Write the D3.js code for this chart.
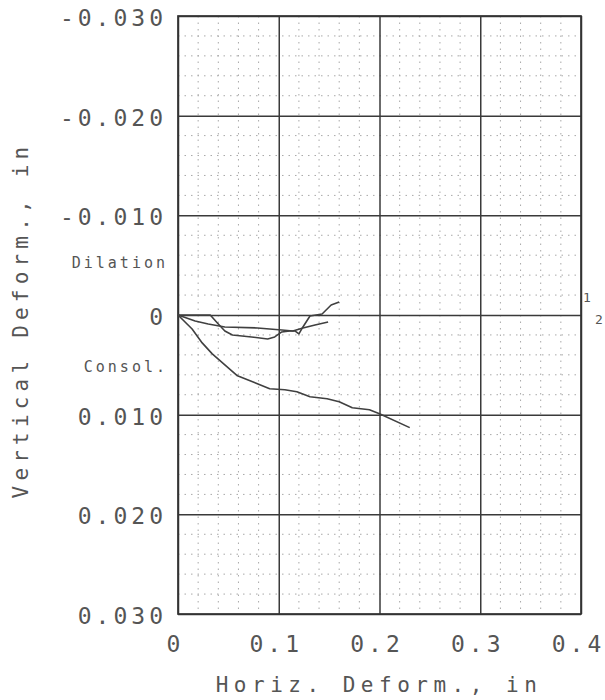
<!DOCTYPE html>
<html>
<head>
<meta charset="utf-8">
<script src="https://cdn.jsdelivr.net/npm/d3@7/dist/d3.min.js"></script>
<style>
  html, body { margin: 0; padding: 0; background: #fff; }
  svg { display: block; }
  text { font-family: "DejaVu Sans Mono", monospace; fill: #555; }
</style>
</head>
<body>
<svg id="chart" width="605" height="700"></svg>
<script>
// ---- data (horizontal deformation in, vertical deformation in; positive = consolidation)
const seriesA = [ // long consolidation curve
  [0, 0], [0.014, 0.0014], [0.024, 0.0028], [0.034, 0.0039],
  [0.059, 0.0061], [0.074, 0.0067], [0.091, 0.0074], [0.106, 0.0075],
  [0.118, 0.0077], [0.131, 0.0082], [0.148, 0.0084], [0.160, 0.0087],
  [0.173, 0.0093], [0.190, 0.0095], [0.200, 0.0099], [0.230, 0.0113]
];
const seriesB = [ // curve turning to dilation
  [0, 0], [0.032, 0.0000], [0.040, 0.0009], [0.0465, 0.0016], [0.054, 0.0020],
  [0.073, 0.0022], [0.089, 0.0024], [0.096, 0.0022], [0.103, 0.0017],
  [0.111, 0.0016], [0.116, 0.0016], [0.120, 0.0019], [0.124, 0.0012],
  [0.131, 0.0001], [0.143, -0.0001], [0.152, -0.0010], [0.160, -0.0013]
];
const seriesC = [ // shallow curve
  [0, 0], [0.017, 0.0006], [0.030, 0.0009], [0.0465, 0.0012], [0.079, 0.0013],
  [0.103, 0.0015], [0.114, 0.0016], [0.124, 0.0013], [0.136, 0.0010], [0.149, 0.0007]
];
const xTicks = [0, 0.1, 0.2, 0.3, 0.4];
const xTickLabels = ["0", "0.1", "0.2", "0.3", "0.4"];
const yTicks = [-0.03, -0.02, -0.01, 0, 0.01, 0.02, 0.03];
const yTickLabels = ["-0.030", "-0.020", "-0.010", "0", "0.010", "0.020", "0.030"];
const xMinorStep = 0.02;
const yMinorStep = 0.002;
const xTitle = "Horiz. Deform., in";
const yTitle = "Vertical Deform., in";
const zoneLabels = [{ text: "Dilation", v: -0.0047 }, { text: "Consol.", v: 0.0057 }];
const curveLabels = ["1", "2"];

// ---- layout
const svg = d3.select("#chart");
const L = 178, R = 581, T = 16, B = 614;
const x = d3.scaleLinear().domain([0, 0.4]).range([L, R]);
const y = d3.scaleLinear().domain([-0.03, 0.03]).range([T, B]);

// minor dotted grid
const xMinor = d3.range(0, 0.4 + 1e-9, xMinorStep).filter(v => Math.abs(v / 0.1 - Math.round(v / 0.1)) > 1e-6);
const yMinor = d3.range(-0.03, 0.03 + 1e-9, yMinorStep).filter(v => Math.abs(v / 0.01 - Math.round(v / 0.01)) > 1e-6);
const minor = svg.append("g").attr("stroke", "#a8a8a8").attr("stroke-width", 1).attr("stroke-dasharray", "1.5,5");
minor.selectAll("line.vx").data(xMinor).join("line")
  .attr("x1", d => x(d)).attr("x2", d => x(d)).attr("y1", T).attr("y2", B);
minor.selectAll("line.hy").data(yMinor).join("line")
  .attr("x1", L).attr("x2", R).attr("y1", d => y(d)).attr("y2", d => y(d));

// major grid using axes
const gx = svg.append("g").attr("transform", `translate(0,${B})`)
  .call(d3.axisBottom(x).tickValues(xTicks).tickSize(-(B - T)).tickFormat((d, i) => xTickLabels[i]));
const gy = svg.append("g").attr("transform", `translate(${L},0)`)
  .call(d3.axisLeft(y).tickValues(yTicks).tickSize(-(R - L)).tickFormat((d, i) => yTickLabels[i]));
[gx, gy].forEach(g => {
  g.select(".domain").remove();
  g.selectAll(".tick line").attr("stroke", "#3a3a3a").attr("stroke-width", 1.5);
});
gx.selectAll(".tick text")
  .attr("font-family", "DejaVu Sans Mono").attr("font-size", 23)
  .attr("letter-spacing", 4).attr("fill", "#555")
  .attr("dy", 0).attr("y", 38).attr("dx", -3);
gy.selectAll(".tick text")
  .attr("font-family", "DejaVu Sans Mono").attr("font-size", 23)
  .attr("letter-spacing", 4).attr("fill", "#555")
  .attr("x", -11).attr("dy", 9.5);

// frame
svg.append("rect").attr("x", L).attr("y", T).attr("width", R - L).attr("height", B - T)
  .attr("fill", "none").attr("stroke", "#333").attr("stroke-width", 1.7);

// curves
const line = d3.line().x(d => x(d[0])).y(d => y(d[1])).curve(d3.curveLinear);
[seriesA, seriesB, seriesC].forEach(s => {
  svg.append("path").datum(s).attr("d", line)
    .attr("fill", "none").attr("stroke", "#404040").attr("stroke-width", 1.6)
    .attr("stroke-linejoin", "round");
});

// zone labels
svg.selectAll("text.zone").data(zoneLabels).join("text")
  .attr("class", "zone")
  .attr("x", 168).attr("y", d => y(d.v))
  .attr("text-anchor", "end").attr("font-size", 15).attr("letter-spacing", 3)
  .text(d => d.text);

// curve labels at right
svg.append("text").attr("x", 583).attr("y", y(-0.0013)).attr("font-size", 13).text(curveLabels[0]);
svg.append("text").attr("x", 595).attr("y", y(0.0009)).attr("font-size", 13).text(curveLabels[1]);

// axis titles
svg.append("text").attr("x", 379).attr("y", 692).attr("text-anchor", "middle")
  .attr("font-size", 21).attr("letter-spacing", 5.5).text(xTitle);
svg.append("text").attr("transform", "translate(28,320) rotate(-90)").attr("text-anchor", "middle")
  .attr("font-size", 21).attr("letter-spacing", 5.2).text(yTitle);
</script>
</body>
</html>
